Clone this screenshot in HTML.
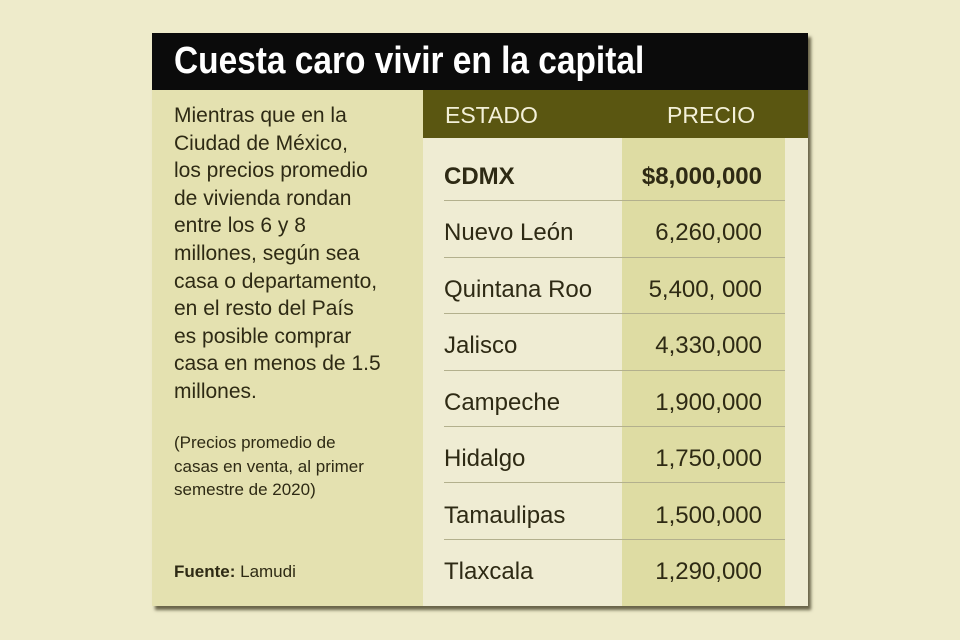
<!DOCTYPE html>
<html><head><meta charset="utf-8"><style>
body{margin:0;width:960px;height:640px;background:#eeebcb;position:relative;overflow:hidden;font-family:"Liberation Sans",sans-serif;color:#2e2a14}
.a{position:absolute}
#card{left:152px;top:33px;width:656px;height:573px;box-shadow:3px 4px 3px rgba(60,55,30,.75)}
#hdr{left:152px;top:33px;width:656px;height:57px;background:#0b0b0b}
#ttl{left:174px;top:33px;color:#fff;font-weight:bold;font-size:38px;line-height:57px;transform:scaleX(0.88);transform-origin:0 50%;white-space:nowrap}
#left{left:152px;top:90px;width:271px;height:516px;background:#e4e1b0}
#tbl{left:423px;top:90px;width:385px;height:516px;background:#efecd3}
#th{left:423px;top:90px;width:385px;height:48px;background:#5a5611;color:#f3f0d8;font-size:23px;line-height:50px}
#pc{left:622px;top:138px;width:163px;height:468px;background:#dedca3}
.ln{left:444px;width:341px;height:1px;background:#b3b08d}
.r{position:absolute;left:444px;width:318px;font-size:24px;line-height:30px}
.r span{position:absolute;right:0}
.p{font-size:21px;line-height:27.6px;left:174px}
</style></head><body>
<div id="card" class="a"></div>
<div id="hdr" class="a"></div>
<div id="ttl" class="a">Cuesta caro vivir en la capital</div>
<div id="left" class="a"></div>
<div id="tbl" class="a"></div>
<div id="th" class="a"><span class="a" style="left:22px">ESTADO</span><span class="a" style="left:244px">PRECIO</span></div>
<div id="pc" class="a"></div>
<div class="a p" style="top:102px">Mientras que en la<br>Ciudad de México,<br>los precios promedio<br>de vivienda rondan<br>entre los 6 y 8<br>millones, según sea<br>casa o departamento,<br>en el resto del País<br>es posible comprar<br>casa en menos de 1.5<br>millones.</div>
<div class="a" style="left:174px;top:431px;font-size:17px;line-height:23.5px">(Precios promedio de<br>casas en venta, al primer<br>semestre de 2020)</div>
<div class="a" style="left:174px;top:562px;font-size:17px"><b>Fuente:</b> Lamudi</div>
<div class="a ln" style="top:200px"></div>
<div class="a ln" style="top:257px"></div>
<div class="a ln" style="top:313px"></div>
<div class="a ln" style="top:370px"></div>
<div class="a ln" style="top:426px"></div>
<div class="a ln" style="top:482px"></div>
<div class="a ln" style="top:539px"></div>
<div class="r" style="top:162px;font-weight:bold">CDMX<span>$8,000,000</span></div>
<div class="r" style="top:218px">Nuevo León<span>6,260,000</span></div>
<div class="r" style="top:275px">Quintana Roo<span>5,400, 000</span></div>
<div class="r" style="top:331px">Jalisco<span>4,330,000</span></div>
<div class="r" style="top:388px">Campeche<span>1,900,000</span></div>
<div class="r" style="top:444px">Hidalgo<span>1,750,000</span></div>
<div class="r" style="top:501px">Tamaulipas<span>1,500,000</span></div>
<div class="r" style="top:557px">Tlaxcala<span>1,290,000</span></div>
</body></html>
